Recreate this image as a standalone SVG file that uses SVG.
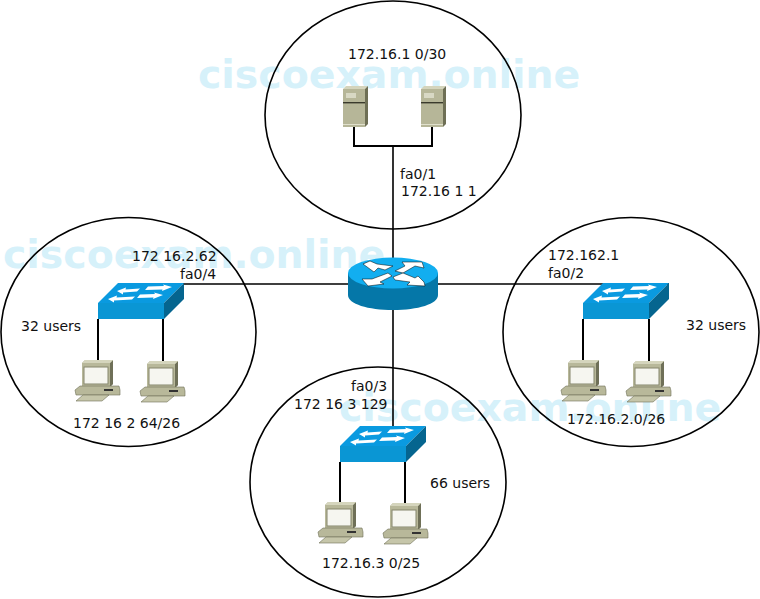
<svg xmlns="http://www.w3.org/2000/svg" width="760" height="599" viewBox="0 0 760 599">
<style>
text{font-family:"DejaVu Sans",sans-serif;font-size:14px;fill:#111}
text.wm{font-size:39.400px;fill:#d6f1fa;font-weight:700}
.c{fill:none;stroke:#000;stroke-width:1.600}
.l{fill:none;stroke:#000;stroke-width:2}
</style>
<defs>
<g id="sw">
<path d="M0 20L20 0H86L66 20Z" fill="#0a9ae0"/>
<path d="M0 20H66V36H0Z" fill="#0a96d4"/>
<path d="M66 20L86 0V16L66 36Z" fill="#05658f"/>
<g fill="#fff">
<path d="M19 8L28 4.500L27.500 6.500L42 5.500L39 8.500L25 9.500L25 11.500Z"/>
<path d="M74 4L64 8L64.500 6.500L47 7L50 3.500L66 3L65 1.500Z"/>
<path d="M10 16L19 12.500L18.500 14.500L37 13.500L34 16.500L16 17.500L16 19.500Z"/>
<path d="M65 12L55 16L55.500 14.500L39 15L42 11.500L57 11L56 9.500Z"/>
</g>
</g>
<g id="pc">
<path d="M7 3L10 0H38V24L35 27H7Z" fill="#b8b89a"/>
<path d="M35 3L38 0V24L35 27Z" fill="#6f7058"/>
<path d="M7 3L10 0H38L35 3Z" fill="#d5d5bd"/>
<rect x="9" y="7" width="24" height="17" fill="#f6f6f0" stroke="#85866c" stroke-width="1"/>
<path d="M0 30L5 26H44L45 30V35H1Z" fill="#b8b89a" stroke="#6f7058" stroke-width=".6"/>
<rect x="29" y="29" width="9" height="2" fill="#333"/>
<path d="M1 41L8 35H34L27 41Z" fill="#c6c6aa" stroke="#6f7058" stroke-width=".6"/>
</g>
<g id="srv">
<rect x="0" y="3" width="22" height="38" fill="#b6b698"/>
<path d="M0 3L3 0H25L22 3Z" fill="#d4d4bc"/>
<path d="M22 3L25 0V38L22 41Z" fill="#6e6f55"/>
<rect x="3" y="7" width="10" height="5" fill="#d8d8c4"/>
<rect x="0" y="16" width="22" height="1.400" fill="#3a3a2c"/>
<rect x="0" y="38" width="22" height="1" fill="#e0e0cc"/>
</g>
</defs>
<rect width="760" height="599" fill="#fff"/>
<g id="watermarks">
<text class="wm" x="198" y="88">ciscoexam.online</text>
<text class="wm" x="3" y="268">ciscoexam.online</text>
<text class="wm" x="339" y="421">ciscoexam.online</text>
</g>
<g id="connectors">
<path class="c" d="M393 146V258M393 310V426M183 284H348M438 284H669"/>
<path class="l" d="M354 127V146H432V127"/>
<path class="l" d="M98 319V361M163 319V361M583 319V362M649 319V362M340 462V504M405 462V504"/>
</g>
<g id="zone-top"><ellipse class="c" cx="393" cy="115" rx="128" ry="114"/></g>
<g id="zone-left"><ellipse class="c" cx="128.500" cy="332" rx="127.500" ry="114.500"/></g>
<g id="zone-right"><ellipse class="c" cx="631" cy="332" rx="128" ry="114.500"/></g>
<g id="zone-bottom"><ellipse class="c" cx="378" cy="482" rx="128" ry="115"/></g>
<g id="server-1"><use href="#srv" x="343" y="86"/></g>
<g id="server-2"><use href="#srv" x="421" y="86"/></g>
<g id="router">
<path d="M348 273V295C348 304 368 310 393 310S438 304 438 295V273Z" fill="#0577a8"/>
<ellipse cx="393" cy="273" rx="45" ry="15.500" fill="#12aef0"/>
<g fill="#fff" stroke="#000" stroke-width=".5">
<path d="M363 264L370 261L377 264L393 266L385 270L378 268L374 272Z"/>
<path d="M395 271L405 266L402 262L422 262L424 268L415 266L403 273Z"/>
<path d="M362 279L372 279L388 273L392 276L380 282L384 284L368 286Z"/>
<path d="M393 277L403 273L415 278L418 276L424 282L425 286L407 285L410 282L395 280Z"/>
</g>
</g>
<g id="switch-left"><use href="#sw" x="98" y="283"/></g>
<g id="switch-right"><use href="#sw" x="583" y="283"/></g>
<g id="switch-bottom"><use href="#sw" x="340" y="426"/></g>
<g id="pc-1"><use href="#pc" x="75" y="360"/></g>
<g id="pc-2"><use href="#pc" x="140" y="361"/></g>
<g id="pc-3"><use href="#pc" x="561" y="360"/></g>
<g id="pc-4"><use href="#pc" x="626" y="361"/></g>
<g id="pc-5"><use href="#pc" x="318" y="502"/></g>
<g id="pc-6"><use href="#pc" x="383" y="503"/></g>
<g id="labels">
<text x="348" y="59">172.16.1 0/30</text>
<text x="400" y="179">fa0/1</text>
<text x="401" y="196">172.16 1 1</text>
<text x="132" y="261">172 16.2.62</text>
<text x="180" y="279">fa0/4</text>
<text x="21" y="331">32 users</text>
<text x="73" y="428">172 16 2 64/26</text>
<text x="548" y="260">172.162.1</text>
<text x="548" y="278">fa0/2</text>
<text x="686" y="330">32 users</text>
<text x="567" y="424">172.16.2.0/26</text>
<text x="351" y="391">fa0/3</text>
<text x="294" y="409">172 16 3 129</text>
<text x="430" y="488">66 users</text>
<text x="322" y="568">172.16.3 0/25</text>
</g>
</svg>
